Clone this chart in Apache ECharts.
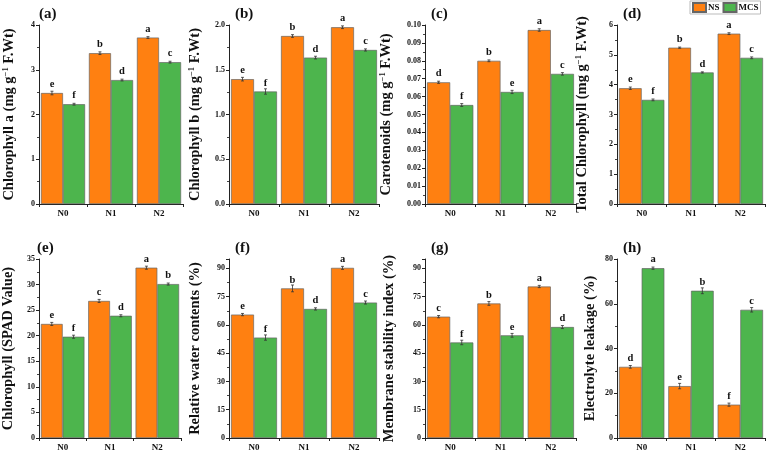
<!DOCTYPE html>
<html><head><meta charset="utf-8">
<script src="https://cdn.jsdelivr.net/npm/echarts@6/dist/echarts.min.js"></script>
<style>html,body{margin:0;padding:0;background:#fff}#c{width:777px;height:452px}</style>
</head><body><div id="c"></div>
<script>
const categories = ['N0', 'N1', 'N2'];
const seriesNames = ['NS', 'MCS'];

// (a) Chlorophyll a
const chlA_NS = [2.48, 3.37, 3.72];
const chlA_MCS = [2.23, 2.77, 3.17];
const chlA_NS_err = [0.04, 0.03, 0.02];
const chlA_MCS_err = [0.02, 0.02, 0.02];
const chlA_NS_let = ['e', 'b', 'a'];
const chlA_MCS_let = ['f', 'd', 'c'];
// (b) Chlorophyll b
const chlB_NS = [1.395, 1.877, 1.975];
const chlB_MCS = [1.257, 1.636, 1.721];
const chlB_NS_err = [0.02, 0.015, 0.015];
const chlB_MCS_err = [0.03, 0.015, 0.012];
const chlB_NS_let = ['e', 'b', 'a'];
const chlB_MCS_let = ['f', 'd', 'c'];
// (c) Carotenoids
const car_NS = [0.068, 0.0800, 0.0972];
const car_MCS = [0.0553, 0.0626, 0.0727];
const car_NS_err = [0.0006, 0.0005, 0.0007];
const car_MCS_err = [0.0008, 0.0009, 0.0007];
const car_NS_let = ['d', 'b', 'a'];
const car_MCS_let = ['f', 'e', 'c'];
// (d) Total Chlorophyll
const tot_NS = [3.88, 5.24, 5.71];
const tot_MCS = [3.49, 4.41, 4.90];
const tot_NS_err = [0.04, 0.02, 0.03];
const tot_MCS_err = [0.03, 0.02, 0.03];
const tot_NS_let = ['e', 'b', 'a'];
const tot_MCS_let = ['f', 'd', 'c'];
// (e) SPAD
const spad_NS = [22.3, 26.8, 33.3];
const spad_MCS = [19.8, 23.9, 30.1];
const spad_NS_err = [0.3, 0.3, 0.3];
const spad_MCS_err = [0.3, 0.2, 0.2];
const spad_NS_let = ['e', 'c', 'a'];
const spad_MCS_let = ['f', 'd', 'b'];
// (f) Relative water contents
const rwc_NS = [65.5, 79.4, 90.3];
const rwc_MCS = [53.3, 68.5, 71.9];
const rwc_NS_err = [0.6, 1.8, 0.8];
const rwc_MCS_err = [1.4, 0.6, 0.8];
const rwc_NS_let = ['e', 'b', 'a'];
const rwc_MCS_let = ['f', 'd', 'c'];
// (g) Membrane stability index
const msi_NS = [64.4, 71.4, 80.4];
const msi_MCS = [50.7, 54.5, 58.9];
const msi_NS_err = [0.6, 1.0, 0.6];
const msi_MCS_err = [1.2, 1.0, 0.8];
const msi_NS_let = ['c', 'b', 'a'];
const msi_MCS_let = ['f', 'e', 'd'];
// (h) Electrolyte leakage
const el_NS = [31.8, 23.2, 14.9];
const el_MCS = [75.9, 65.8, 57.3];
const el_NS_err = [0.6, 1.2, 0.7];
const el_MCS_err = [0.5, 1.3, 1.0];
const el_NS_let = ['d', 'e', 'f'];
const el_MCS_let = ['a', 'b', 'c'];

const panels = [
  {tag:'(a)', name:['Chlorophyll a (mg g', '−1', ' F.Wt)'], ns:chlA_NS, mcs:chlA_MCS, nsE:chlA_NS_err, mcsE:chlA_MCS_err, nsL:chlA_NS_let, mcsL:chlA_MCS_let, min:0, max:4, iv:1, dec:0, left:33, top:25, w:150, gap:21},
  {tag:'(b)', name:['Chlorophyll b (mg g', '−1', ' F.Wt)'], ns:chlB_NS, mcs:chlB_MCS, nsE:chlB_NS_err, mcsE:chlB_MCS_err, nsL:chlB_NS_let, mcsL:chlB_MCS_let, min:0, max:2, iv:0.5, dec:1, left:229, top:25, w:150, gap:25},
  {tag:'(c)', name:['Carotenoids (mg g', '−1', ' F.Wt)'], ns:car_NS, mcs:car_MCS, nsE:car_NS_err, mcsE:car_MCS_err, nsL:car_NS_let, mcsL:car_MCS_let, min:0, max:0.1, iv:0.01, dec:2, left:425, top:25, w:151, gap:30},
  {tag:'(d)', name:['Total Chlorophyll (mg g', '−1', ' F.Wt)'], ns:tot_NS, mcs:tot_MCS, nsE:tot_NS_err, mcsE:tot_MCS_err, nsL:tot_NS_let, mcsL:tot_MCS_let, min:0, max:6, iv:1, dec:0, left:617, top:25, w:148, gap:26},
  {tag:'(e)', name:['Chlorophyll (SPAD Value)'], ns:spad_NS, mcs:spad_MCS, nsE:spad_NS_err, mcsE:spad_MCS_err, nsL:spad_NS_let, mcsL:spad_MCS_let, min:0, max:35, iv:5, dec:0, left:31, top:259, w:150, gap:23},
  {tag:'(f)', name:['Relative water contents (%)'], ns:rwc_NS, mcs:rwc_MCS, nsE:rwc_NS_err, mcsE:rwc_MCS_err, nsL:rwc_NS_let, mcsL:rwc_MCS_let, min:0, max:95, iv:15, dec:0, left:229, top:259, w:150, gap:26, hideMax:true},
  {tag:'(g)', name:['Membrane stability index (%)'], ns:msi_NS, mcs:msi_MCS, nsE:msi_NS_err, mcsE:msi_MCS_err, nsL:msi_NS_let, mcsL:msi_MCS_let, min:0, max:95, iv:15, dec:0, left:425, top:259, w:151, gap:28, hideMax:true},
  {tag:'(h)', name:['Electrolyte leakage (%)'], ns:el_NS, mcs:el_MCS, nsE:el_NS_err, mcsE:el_MCS_err, nsL:el_NS_let, mcsL:el_MCS_let, min:0, max:80, iv:20, dec:0, left:617, top:259, w:148, gap:19}
];

const FONT = '"Liberation Serif", "Times New Roman", serif';
const ORANGE = '#FF8011';
const GREEN = '#4DB54D';
const GAP_RATIO = 0.08;
const H = 179;

const grids = [], xAxes = [], yAxes = [], series = [], titles = [];

function errRender(sign) {
  return function (params, api) {
    const i = api.value(0), v = api.value(1), e = api.value(2);
    const band = api.size([1, 0])[0];
    const bw = band * (1 - GAP_RATIO) / 2;
    const c = api.coord([i, v]);
    const x = c[0] + sign * bw / 2;
    const hi = api.coord([i, v + e])[1];
    const lo = api.coord([i, v - e])[1];
    const st = {stroke: '#333', lineWidth: 0.8};
    return {type: 'group', children: [
      {type: 'line', shape: {x1: x, y1: hi, x2: x, y2: lo}, style: st},
      {type: 'line', shape: {x1: x - 1.5, y1: hi, x2: x + 1.5, y2: hi}, style: st},
      {type: 'line', shape: {x1: x - 1.5, y1: lo, x2: x + 1.5, y2: lo}, style: st}
    ]};
  };
}

panels.forEach((p, k) => {
  grids.push({left: p.left, top: p.top, width: p.w, height: H, containLabel: false});
  titles.push({text: p.tag, left: p.left + 1, top: p.top - 23,
    textStyle: {fontFamily: FONT, fontWeight: 'bold', fontSize: 15, color: '#111'}});
  xAxes.push({type: 'category', gridIndex: k, data: categories,
    axisLine: {lineStyle: {color: '#222', width: 1}},
    axisTick: {alignWithLabel: true, length: 3, lineStyle: {color: '#222'}},
    axisLabel: {fontFamily: FONT, fontWeight: 'bold', fontSize: 9, color: '#111', margin: 5}});
  let nameStr;
  if (p.name.length === 3) {
    nameStr = '{m|' + p.name[0] + '}{s|' + p.name[1] + '}{m|' + p.name[2] + '}';
  } else {
    nameStr = '{m|' + p.name[0] + '}';
  }
  yAxes.push({type: 'value', gridIndex: k, min: p.min, max: p.max, interval: p.iv,
    name: nameStr, nameLocation: 'middle', nameGap: p.gap, nameRotate: 90,
    nameTextStyle: {rich: {
      m: {fontFamily: FONT, fontWeight: 'bold', fontSize: 14.5, color: '#111'},
      s: {fontFamily: FONT, fontWeight: 'bold', fontSize: 8.5, color: '#111', verticalAlign: 'top', padding: [0, 0, 8, 0]}
    }},
    axisLine: {show: true, lineStyle: {color: '#222', width: 1}},
    axisTick: {show: true, length: 3, lineStyle: {color: '#222'}},
    minorTick: {show: true, splitNumber: 2, length: 2, lineStyle: {color: '#444'}},
    splitLine: {show: false},
    axisLabel: {fontFamily: FONT, fontWeight: 'bold', fontSize: 8, color: '#111', margin: 4,
      showMaxLabel: p.hideMax ? false : true,
      formatter: (v) => v.toFixed(p.dec)}});
  const mk = (name, vals, lets, color) => ({
    name: name, type: 'bar', xAxisIndex: k, yAxisIndex: k, data: vals,
    barGap: '0%', barCategoryGap: (GAP_RATIO * 100) + '%',
    itemStyle: {color: color, borderColor: '#666', borderWidth: 0.7},
    label: {show: true, position: 'top', distance: 3, fontFamily: FONT, fontWeight: 'bold', fontSize: 10.5, color: '#111',
      formatter: (pp) => lets[pp.dataIndex]}
  });
  series.push(mk('NS', p.ns, p.nsL, ORANGE));
  series.push(mk('MCS', p.mcs, p.mcsL, GREEN));
  series.push({type: 'custom', xAxisIndex: k, yAxisIndex: k, renderItem: errRender(-1),
    data: p.ns.map((v, i) => [i, v, p.nsE[i]]), encode: {x: 0, y: 1}, z: 5, silent: true});
  series.push({type: 'custom', xAxisIndex: k, yAxisIndex: k, renderItem: errRender(1),
    data: p.mcs.map((v, i) => [i, v, p.mcsE[i]]), encode: {x: 0, y: 1}, z: 5, silent: true});
});

// extra x axes drawing the group-boundary ticks
panels.forEach((p, k) => {
  xAxes.push({type: 'category', gridIndex: k, data: categories, position: 'bottom',
    axisLine: {show: false}, axisLabel: {show: false},
    axisTick: {show: true, alignWithLabel: false, length: 3, lineStyle: {color: '#222'}}});
});

const chart = echarts.init(document.getElementById('c'), null, {renderer: 'canvas'});
chart.setOption({
  animation: false,
  backgroundColor: '#fff',
  title: titles,
  legend: {data: seriesNames, left: 690, top: 1, itemWidth: 13, itemHeight: 9, itemGap: 3,
    borderColor: '#bbb', borderWidth: 1, padding: [1, 2, 1, 2],
    icon: 'rect',
    textStyle: {fontFamily: FONT, fontWeight: 'bold', fontSize: 9, color: '#111', padding: [0, 0, 0, -3]}},
  grid: grids,
  xAxis: xAxes,
  yAxis: yAxes,
  series: series
});
</script></body></html>
